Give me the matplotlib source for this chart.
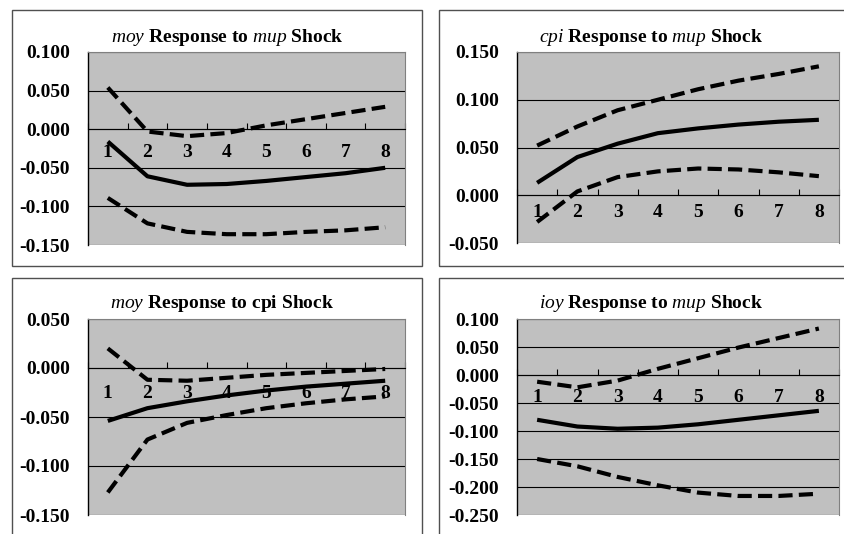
import matplotlib
matplotlib.use('Agg')
import matplotlib.pyplot as plt
from matplotlib.patches import Rectangle

# dados (periodos 1 a 8)
periods = [1, 2, 3, 4, 5, 6, 7, 8]

moy_mup = [-0.016, -0.061, -0.072, -0.071, -0.067, -0.062, -0.057, -0.050]
moy_mup_up = [0.054, -0.003, -0.009, -0.005, 0.005, 0.013, 0.021, 0.029]
moy_mup_lo = [-0.089, -0.122, -0.133, -0.136, -0.136, -0.133, -0.131, -0.127]

cpi_mup = [0.013, 0.040, 0.054, 0.065, 0.070, 0.074, 0.077, 0.079]
cpi_mup_up = [0.052, 0.072, 0.089, 0.100, 0.111, 0.120, 0.127, 0.135]
cpi_mup_lo = [-0.028, 0.004, 0.019, 0.025, 0.028, 0.027, 0.024, 0.020]

moy_cpi = [-0.054, -0.041, -0.034, -0.028, -0.023, -0.019, -0.016, -0.013]
moy_cpi_up = [0.020, -0.012, -0.013, -0.010, -0.007, -0.005, -0.003, -0.001]
moy_cpi_lo = [-0.127, -0.073, -0.056, -0.048, -0.041, -0.036, -0.032, -0.029]

ioy_mup = [-0.080, -0.092, -0.096, -0.094, -0.088, -0.080, -0.072, -0.064]
ioy_mup_up = [-0.012, -0.022, -0.010, 0.011, 0.030, 0.049, 0.066, 0.083]
ioy_mup_lo = [-0.150, -0.163, -0.182, -0.197, -0.210, -0.216, -0.216, -0.212]

titles = [r'$\mathit{moy}$ Response to $\mathit{mup}$ Shock',
          r'$\mathit{cpi}$ Response to $\mathit{mup}$ Shock',
          r'$\mathit{moy}$ Response to cpi Shock',
          r'$\mathit{ioy}$ Response to $\mathit{mup}$ Shock']

yticks_list = [[0.10, 0.05, 0.0, -0.05, -0.10, -0.15],
               [0.15, 0.10, 0.05, 0.0, -0.05],
               [0.05, 0.0, -0.05, -0.10, -0.15],
               [0.10, 0.05, 0.0, -0.05, -0.10, -0.15, -0.20, -0.25]]

series = [(moy_mup, moy_mup_up, moy_mup_lo),
          (cpi_mup, cpi_mup_up, cpi_mup_lo),
          (moy_cpi, moy_cpi_up, moy_cpi_lo),
          (ioy_mup, ioy_mup_up, ioy_mup_lo)]

plt.rcParams['mathtext.fontset'] = 'custom'
plt.rcParams['mathtext.it'] = 'Liberation Serif:italic'
plt.rcParams['mathtext.rm'] = 'Liberation Serif:bold'
plt.rcParams['font.family'] = ['Liberation Serif', 'DejaVu Serif']

W, H = 844, 534
fig = plt.figure(figsize=(W / 100, H / 100), dpi=100)

def px(x0, y0, x1, y1):
    # retangulo em pixels (topo para baixo) -> coordenadas da figura
    return [x0 / W, 1 - y1 / H, (x1 - x0) / W, (y1 - y0) / H]

# molduras dos quatro graficos
frames = [(12, 10, 422, 266), (439, 10, 846, 266), (12, 278, 422, 536), (439, 278, 846, 536)]
for f in frames:
    fig.patches.append(Rectangle((f[0] / W, 1 - f[3] / H), (f[2] - f[0]) / W, (f[3] - f[1]) / H,
                                 transform=fig.transFigure, fill=False, edgecolor='#505050', lw=1.0))

areas = [(88, 52, 405, 245), (517, 52, 839, 243), (88, 319, 405, 515), (517, 319, 839, 515)]
title_pos = [(227, 37), (651, 37), (222, 304), (651, 304)]
xpads = [11, 6, 12, 10]

for i in range(4):
    ax = fig.add_axes(px(*areas[i]))
    ax.set_facecolor('#c0c0c0')
    # eixo x cruzando no zero (antes de mexer nos ticks)
    ax.spines['bottom'].set_position(('data', 0))
    ax.spines['bottom'].set_linewidth(0.8)
    ax.spines['left'].set_linewidth(1.0)
    ax.spines['top'].set_color('#808080')
    ax.spines['right'].set_color('#808080')

    mid, up, lo = series[i]
    ax.plot(periods, up, color='black', lw=3, dashes=(3.4, 1.5), zorder=3)
    ax.plot(periods, lo, color='black', lw=3, dashes=(3.4, 1.5), zorder=3)
    ax.plot(periods, mid, color='black', lw=3, zorder=3, solid_capstyle='butt')

    yt = yticks_list[i]
    ax.set_ylim(min(yt), max(yt))
    ax.set_xlim(0.5, 8.5)
    ax.set_yticks(yt)
    ax.set_yticklabels(['%.3f' % v for v in yt], fontsize=14, fontweight='bold')
    ax.tick_params(axis='y', length=0, pad=13)
    for v in yt:
        ax.axhline(v, color='black', lw=0.8, zorder=1)

    ax.set_xticks(periods)
    ax.set_xticklabels([str(p) for p in periods], fontsize=14, fontweight='bold')
    ax.set_xticks([p + 0.5 for p in range(0, 9)], minor=True)
    ax.tick_params(axis='x', which='major', length=0, pad=xpads[i])
    ax.tick_params(axis='x', which='minor', direction='in', length=4, width=0.8)

    fig.text(title_pos[i][0] / W, 1 - title_pos[i][1] / H, titles[i], ha='center', va='center',
             fontsize=14, fontweight='bold')

fig.savefig('out.png', dpi=100)
